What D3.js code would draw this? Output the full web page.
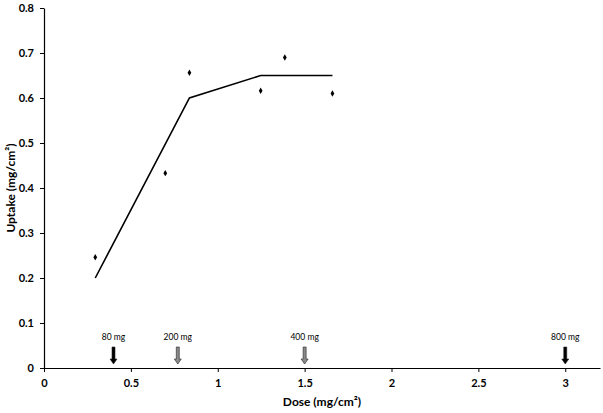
<!DOCTYPE html>
<html><head><meta charset="utf-8">
<script src="https://cdn.jsdelivr.net/npm/d3@7"></script>
<style>body{margin:0;background:#fff}svg{display:block}text{font-family:Lato,"Open Sans",sans-serif}</style>
</head><body>
<script>
const pointDose = [0.295, 0.698, 0.837, 1.247, 1.386, 1.66];
const pointUptake = [0.246, 0.433, 0.656, 0.616, 0.690, 0.610];
const fitDose = [0.295, 0.837, 1.247, 1.66];
const fitUptake = [0.20, 0.60, 0.65, 0.65];
const arrowDose = [0.4, 0.77, 1.5, 3.0];
const arrowLabels = ["80 mg", "200 mg", "400 mg", "800 mg"];
const arrowFill = ["#000", "#8a8a8a", "#8a8a8a", "#000"];
const xTicks = [0, 0.5, 1, 1.5, 2, 2.5, 3];
const yTicks = [0, 0.1, 0.2, 0.3, 0.4, 0.5, 0.6, 0.7, 0.8];

const W = 603, H = 413;
const svg = d3.select("body").append("svg").attr("width", W).attr("height", H);
const x = d3.scaleLinear().domain([0, 3.2]).range([44, 600]);
const y = d3.scaleLinear().domain([0, 0.8]).range([368, 8]);

const xAxis = svg.append("g").attr("transform", `translate(0,${y(0)})`)
  .call(d3.axisBottom(x).tickValues(xTicks).tickSize(4).tickSizeOuter(0).tickPadding(7).tickFormat(d3.format("")));
const yAxis = svg.append("g").attr("transform", `translate(${x(0)},0)`)
  .call(d3.axisLeft(y).tickValues(yTicks).tickSize(4).tickSizeOuter(0).tickPadding(6).tickFormat(d3.format("")));
[xAxis, yAxis].forEach(a => {
  a.select(".domain").attr("stroke", "#000").attr("stroke-width", 1.2);
  a.selectAll(".tick line").attr("stroke", "#000");
  a.selectAll("text").attr("font-size", 11).attr("font-weight", "bold").attr("fill", "#000");
});

svg.append("text").attr("x", 322).attr("y", 406).attr("text-anchor", "middle")
  .attr("font-size", 12).attr("font-weight", "bold").text("Dose (mg/cm²)");
svg.append("text").attr("transform", `translate(15,188) rotate(-90)`).attr("text-anchor", "middle")
  .attr("font-size", 12).attr("font-weight", "bold").text("Uptake (mg/cm²)");

const line = d3.line().x((d, i) => x(fitDose[i])).y(d => y(d));
svg.append("path").datum(fitUptake).attr("d", line).attr("fill", "none")
  .attr("stroke", "#000").attr("stroke-width", 1.6);

const sym = d3.symbol().type(d3.symbolDiamond).size(12);
svg.selectAll(".pt").data(pointUptake).join("path")
  .attr("transform", (d, i) => `translate(${x(pointDose[i])},${y(d)})`)
  .attr("d", sym).attr("fill", "#000");

arrowDose.forEach((d, i) => {
  const cx = x(d), top = 347, tip = 364;
  const g = svg.append("g");
  g.append("path")
    .attr("d", `M${cx-1.5},${top} L${cx+1.5},${top} L${cx+1.5},${tip-5} L${cx+3.5},${tip-5} L${cx},${tip} L${cx-3.5},${tip-5} L${cx-1.5},${tip-5} Z`)
    .attr("fill", arrowFill[i]).attr("stroke", "#222").attr("stroke-width", 0.6);
  g.append("text").attr("x", cx).attr("y", 340).attr("text-anchor", "middle")
    .attr("font-size", 8.5).attr("fill", "#000").text(arrowLabels[i]);
});
</script>
</body></html>
